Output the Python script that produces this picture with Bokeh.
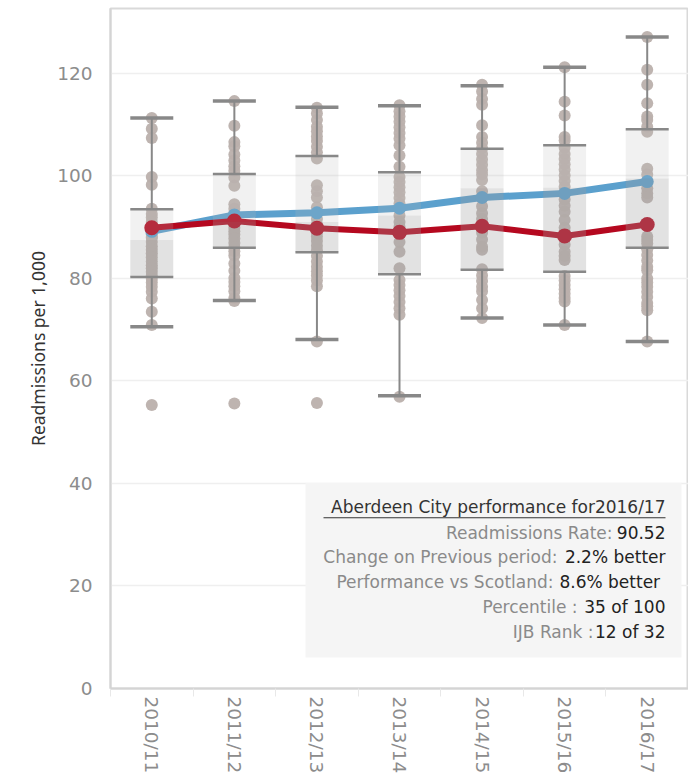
from bokeh.plotting import figure
from bokeh.models import FixedTicker, ColumnDataSource
from bokeh.core.properties import value
from bokeh.embed import file_html
from bokeh.resources import INLINE

# ---------------- data ----------------
years = ["2010/11", "2011/12", "2012/13", "2013/14", "2014/15", "2015/16", "2016/17"]

# Aberdeen City and Scotland readmission rates
aberdeen = [89.9, 91.2, 89.8, 89.0, 90.2, 88.3, 90.52]
scotland = [89.2, 92.4, 92.8, 93.7, 95.8, 96.6, 98.9]

# box plot statistics
whisk_lo = [70.6, 75.7, 68.1, 57.1, 72.3, 70.9, 67.7]
q1 = [80.3, 86.0, 85.1, 80.8, 81.7, 81.3, 86.0]
median = [87.5, 91.1, 91.0, 92.3, 97.6, 97.7, 99.5]
q3 = [93.5, 100.4, 103.9, 100.7, 105.3, 106.0, 109.1]
whisk_hi = [111.3, 114.6, 113.4, 113.7, 117.6, 121.2, 127.1]

# IJB values per year
ijb_1011 = [111.3, 109.2, 107.4, 99.8, 98.3, 93.6, 92.6, 91.9, 91.0, 90.2, 89.4, 88.6,
            88.1, 87.9, 87.1, 86.3, 85.6, 84.9, 84.1, 83.3, 82.6, 82.0, 81.3, 80.6,
            79.9, 79.2, 78.4, 77.4, 76.1, 73.5, 70.9, 55.3]
ijb_1112 = [114.6, 109.8, 106.6, 105.8, 104.2, 103.0, 101.9, 101.0, 99.7, 98.1, 94.5, 93.6,
            92.7, 91.8, 90.6, 89.9, 89.2, 88.6, 87.8, 86.9, 86.1, 85.3, 84.5, 82.9,
            81.5, 80.1, 79.3, 78.5, 77.5, 76.2, 75.6, 55.6]
ijb_1213 = [113.3, 112.2, 110.9, 109.6, 108.7, 107.7, 106.8, 105.7, 104.6, 103.4, 98.2, 97.0,
            95.8, 93.9, 92.7, 91.6, 90.6, 89.8, 89.0, 88.2, 87.3, 86.4, 85.5, 84.4,
            83.3, 82.3, 81.4, 80.6, 79.6, 78.5, 67.7, 55.7]
ijb_1314 = [113.8, 112.6, 111.6, 110.6, 109.5, 108.4, 107.3, 106.0, 104.0, 101.8, 99.8, 98.8,
            97.8, 96.8, 95.7, 94.6, 93.6, 92.3, 91.0, 90.1, 89.1, 87.1, 85.2, 82.0,
            79.7, 78.7, 77.7, 76.6, 75.4, 74.2, 72.9, 56.9]
ijb_1415 = [117.8, 116.5, 115.0, 113.9, 109.9, 107.6, 106.5, 105.4, 104.3, 103.2, 102.2, 101.1,
            100.3, 99.2, 97.0, 95.9, 94.1, 92.7, 91.6, 90.1, 88.9, 87.6, 86.2, 85.6,
            81.8, 80.6, 79.5, 78.4, 77.5, 75.8, 74.2, 72.3]
ijb_1516 = [121.2, 114.5, 111.8, 107.6, 106.9, 105.5, 104.3, 103.3, 102.3, 101.2, 100.1, 99.0,
            97.9, 96.6, 95.4, 94.2, 93.0, 91.4, 89.9, 88.4, 86.6, 85.2, 84.4, 83.6,
            80.5, 79.6, 78.7, 77.9, 77.0, 76.2, 75.5, 70.9]
ijb_1617 = [127.1, 120.7, 117.8, 114.2, 111.6, 110.9, 109.6, 108.6, 101.4, 100.3, 98.8, 97.6,
            96.6, 95.8, 90.5, 88.2, 87.5, 86.8, 85.7, 84.6, 83.5, 82.3, 81.6, 80.0,
            79.2, 78.4, 77.4, 76.4, 75.2, 74.6, 73.8, 67.7]
ijb_values = [ijb_1011, ijb_1112, ijb_1213, ijb_1314, ijb_1415, ijb_1516, ijb_1617]

y_ticks = [0, 20, 40, 60, 80, 100, 120]

info_title = "Aberdeen City performance for2016/17"
info_labels = ["Readmissions Rate:", "Change on Previous period:", "Performance vs Scotland:",
               "Percentile :", "IJB Rank :"]
info_values = ["90.52", "2.2% better", "8.6%  better", "35 of 100", "12 of 32"]

# ---------------- layout ----------------
W, H = 688, 776
YMAX = 132.67
FL, FR, FT, FB = 110, 688, 8, 689   # frame edges in page pixels (figure drawn at 0,0)


def px_x(px):
    return -0.5 + (px - FL) / (FR - FL) * len(years)


def px_y(py):
    return (FB - py) / (FB - FT) * YMAX


FONT = "Noto Sans"
TFONT = "DejaVu Sans"
GRAY = "#888888"
BORDER = "#d9d9d9"

p = figure(width=W, height=H, x_range=(-0.5, len(years) - 0.5), y_range=(0, YMAX),
           output_backend="svg", toolbar_location=None,
           min_border_left=FL, min_border_right=W - FR, min_border_top=FT,
           min_border_bottom=H - FB)
p.background_fill_color = "white"
p.border_fill_color = "white"
p.outline_line_color = BORDER
p.outline_line_width = 2

idx = list(range(len(years)))

# gridlines
p.xgrid.grid_line_color = None
p.ygrid.ticker = FixedTicker(ticks=y_ticks)
p.ygrid.grid_line_color = "#efefef"
p.ygrid.grid_line_width = 1.5

# axes
p.yaxis.ticker = FixedTicker(ticks=y_ticks)
p.yaxis.axis_label = "Readmissions per 1,000"
p.yaxis.axis_label_text_font = FONT
p.yaxis.axis_label_text_font_size = "17.5px"
p.yaxis.axis_label_text_font_style = "normal"
p.yaxis.axis_label_text_color = "#333333"
p.yaxis.axis_label_standoff = 4
p.yaxis.major_label_text_font = TFONT
p.yaxis.major_label_text_font_size = "18.5px"
p.yaxis.major_label_text_color = "#8c8c8c"
p.yaxis.major_label_standoff = 12
p.yaxis.axis_line_color = "#d4d4d4"
p.yaxis.axis_line_width = 2
p.yaxis.major_tick_line_color = None
p.yaxis.minor_tick_line_color = None

p.xaxis.ticker = FixedTicker(ticks=idx, minor_ticks=[i - 0.5 for i in idx] + [len(years) - 0.5])
p.xaxis.major_label_overrides = {i: y for i, y in zip(idx, years)}
p.xaxis.major_label_orientation = "vertical"
p.xaxis.major_label_text_font = TFONT
p.xaxis.major_label_text_font_size = "18.5px"
p.xaxis.major_label_text_color = "#8c8c8c"
p.xaxis.major_label_standoff = 0
p.xaxis.axis_line_color = "#d4d4d4"
p.xaxis.axis_line_width = 2
p.xaxis.major_tick_line_color = None
p.xaxis.major_tick_out = 0
p.xaxis.minor_tick_line_color = "#e8e8e8"
p.xaxis.minor_tick_in = 0
p.xaxis.minor_tick_out = 8

# IJB dots
dot_x, dot_y = [], []
for i, vals in zip(idx, ijb_values):
    dot_x += [i] * len(vals)
    dot_y += vals
p.scatter(dot_x, dot_y, size=12, fill_color="#bab0ac", line_color=None, fill_alpha=0.95)

# Scotland and Aberdeen lines
p.line(idx, scotland, line_color="#5ba0cd", line_width=7)
p.scatter(idx, scotland, size=13, fill_color="#5ba0cd", line_color=None)
p.line(idx, aberdeen, line_color="#b5081f", line_width=6)
p.scatter(idx, aberdeen, size=15, fill_color="#b5081f", line_color=None)

# boxes (overlay, semi-transparent)
BOXW = 0.52
p.vbar(x=idx, bottom=median, top=q3, width=BOXW, fill_color="#b8b8b8", fill_alpha=0.2, line_color=None)
p.vbar(x=idx, bottom=q1, top=median, width=BOXW, fill_color="#a0a0a0", fill_alpha=0.3, line_color=None)

# whiskers and caps
p.segment(x0=idx, y0=q3, x1=idx, y1=whisk_hi, line_color=GRAY, line_width=2)
p.segment(x0=idx, y0=whisk_lo, x1=idx, y1=q1, line_color=GRAY, line_width=2)
for arr, lw in ((whisk_hi, 3.5), (whisk_lo, 3.5), (q1, 2.5), (q3, 2.5)):
    p.dash(idx, arr, size=43, line_color=GRAY, line_width=lw)

# info box
p.quad(left=[px_x(305)], right=[px_x(681)], top=[px_y(483)], bottom=[px_y(658)],
       fill_color="#f5f5f5", line_color=None)

BOX_FS = "17px"
p.text(x=[px_x(665)], y=[px_y(507)], text=[info_title], text_font=value(TFONT),
       text_font_size=BOX_FS, text_color="#333333", text_align="right", text_baseline="middle")
p.segment(x0=[px_x(323)], y0=[px_y(518)], x1=[px_x(665)], y1=[px_y(518)],
          line_color="#333333", line_width=1)

row_y = [533, 557, 582, 607, 632]
label_end = [612, 557, 553, 577, 593]
src = ColumnDataSource(dict(
    lx=[px_x(e) for e in label_end],
    vx=[px_x(665)] * len(row_y),
    y=[px_y(r) for r in row_y],
    lab=info_labels,
    val=info_values,
))
p.text(x="lx", y="y", text="lab", source=src, text_font=value(TFONT), text_font_size=BOX_FS,
       text_color="#8a8a8a", text_align="right", text_baseline="middle")
p.text(x="vx", y="y", text="val", source=src, text_font=value(TFONT), text_font_size=BOX_FS,
       text_color="#222222", text_align="right", text_baseline="middle")

open("out.html", "w").write(file_html(p, INLINE))
